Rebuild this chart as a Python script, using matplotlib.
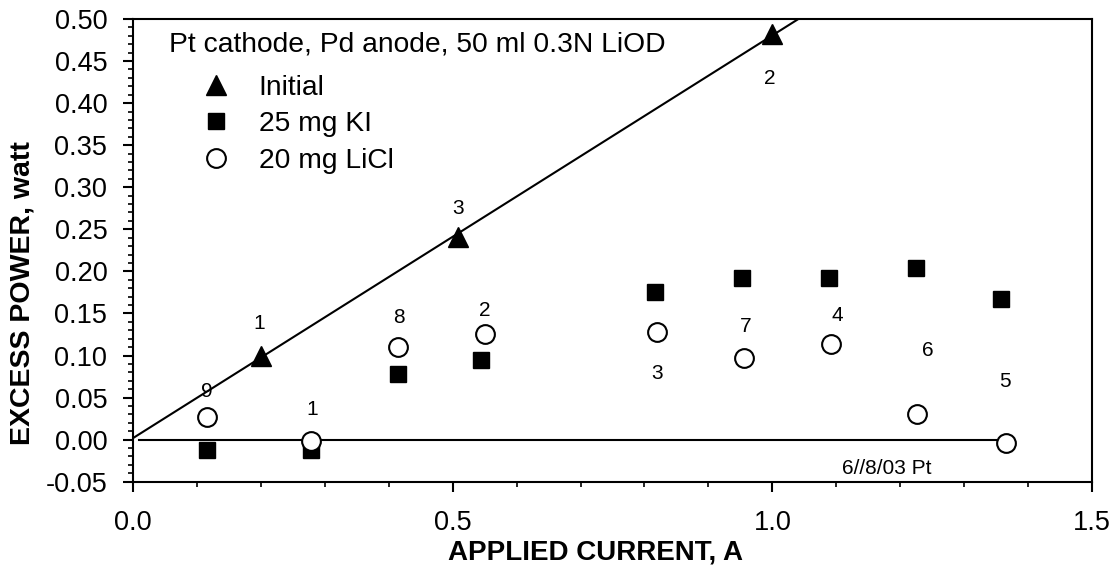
import numpy as np
import matplotlib
matplotlib.use("Agg")
import matplotlib.pyplot as plt
from matplotlib.ticker import MultipleLocator, FormatStrFormatter

plt.rcParams['font.family'] = ['Liberation Sans', 'DejaVu Sans']

# ---- data ----
initial_x = [0.20, 0.508, 1.00]
initial_y = [0.100, 0.241, 0.482]
initial_labels = ['1', '3', '2']
initial_label_x = [0.197, 0.509, 0.996]
initial_label_y = [0.138, 0.275, 0.429]

ki_x = [0.115, 0.279, 0.414, 0.545, 0.816, 0.952, 1.088, 1.225, 1.357]
ki_y = [-0.0125, -0.012, 0.0775, 0.0945, 0.175, 0.192, 0.192, 0.2035, 0.167]

licl_x = [0.115, 0.278, 0.414, 0.550, 0.819, 0.956, 1.091, 1.227, 1.365]
licl_y = [0.027, -0.0015, 0.110, 0.1255, 0.128, 0.0975, 0.1136, 0.0303, -0.0045]
licl_labels = ['9', '1', '8', '2', '3', '7', '4', '6', '5']
licl_label_x = [0.115, 0.281, 0.416, 0.5495, 0.819, 0.958, 1.102, 1.2425, 1.364]
licl_label_y = [0.057, 0.036, 0.145, 0.154, 0.0787, 0.135, 0.147, 0.1064, 0.0696]

zero_line_x = [0.01, 1.351]
zero_line_y = [0.0, 0.0]

fit_range = [0.0, 1.12]

title_text = 'Pt cathode, Pd anode, 50 ml 0.3N LiOD'
date_text = '6//8/03 Pt'
date_pos = (1.179, -0.034)

# ---- figure ----
fig = plt.figure(figsize=(11.11, 5.67), dpi=100)
ax = fig.add_axes([0.1197, 0.1504, 0.8632, 0.8161])

# linear fit through the "Initial" points
coef = np.polyfit(initial_x, initial_y, 1)
fx = np.array(fit_range)
ax.plot(fx, np.polyval(coef, fx), color='black', lw=1.5, zorder=2)
ax.plot(zero_line_x, zero_line_y, color='black', lw=1.5, zorder=2)

ax.plot(initial_x, initial_y, linestyle='none', marker='^', ms=15,
        color='black', label='Initial', zorder=3)
ax.plot(ki_x, ki_y, linestyle='none', marker='s', ms=11.5,
        color='black', label='25 mg KI', zorder=3)
ax.plot(licl_x, licl_y, linestyle='none', marker='o', ms=13.5,
        markerfacecolor='white', markeredgecolor='black', mew=1.5,
        label='20 mg LiCl', zorder=4)

for t, x, y in zip(initial_labels, initial_label_x, initial_label_y):
    ax.text(x, y, t, ha='center', va='center', fontsize=15)
for t, x, y in zip(licl_labels, licl_label_x, licl_label_y):
    ax.text(x, y, t, ha='center', va='center', fontsize=15)
ax.text(date_pos[0], date_pos[1], date_text, ha='center', va='center', fontsize=15)

ax.text(0.0379, 0.9293, title_text, transform=ax.transAxes,
        ha='left', va='baseline', fontsize=20.3)

leg = ax.legend(loc='upper left', bbox_to_anchor=(0.0657, 0.8785),
                frameon=False, fontsize=20.3, handlelength=1.4,
                handletextpad=0.82, labelspacing=0.36, borderpad=0,
                borderaxespad=0, numpoints=1)

ax.set_xlim(0, 1.5)
ax.set_ylim(-0.05, 0.50)
ax.xaxis.set_major_locator(MultipleLocator(0.5))
ax.xaxis.set_minor_locator(MultipleLocator(0.1))
ax.yaxis.set_major_locator(MultipleLocator(0.05))
ax.yaxis.set_minor_locator(MultipleLocator(0.01))
ax.xaxis.set_major_formatter(FormatStrFormatter('%.1f'))
ax.yaxis.set_major_formatter(FormatStrFormatter('%.2f'))

ax.tick_params(which='major', direction='out', length=7.5, width=1.5,
               labelsize=19.5, colors='black')
ax.tick_params(axis='x', which='major', pad=13)
ax.tick_params(axis='y', which='major', pad=11)
ax.tick_params(which='minor', direction='out', length=3.6, width=1.2)

for s in ax.spines.values():
    s.set_linewidth(1.5)
    s.set_color('black')

ax.set_xlabel('APPLIED CURRENT, A', fontsize=20, fontweight='bold')
ax.set_ylabel('EXCESS POWER, watt', fontsize=20.5, fontweight='bold')
ax.xaxis.set_label_coords(0.482, -0.124)
ax.yaxis.set_label_coords(-0.102, 0.408)

fig.savefig('out.png', dpi=100)
